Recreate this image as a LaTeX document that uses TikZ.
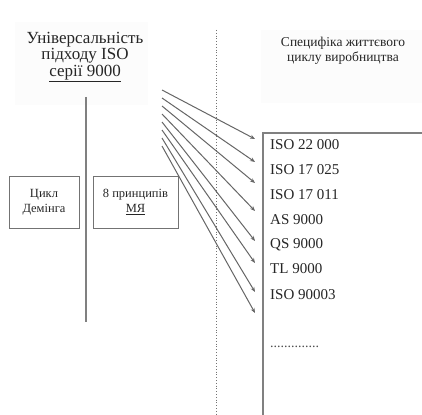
\documentclass[tikz,border=0pt]{standalone}
\usepackage{fontspec}
\setmainfont{Liberation Serif}
\usetikzlibrary{arrows.meta}
\begin{document}
\begin{tikzpicture}[x=1pt,y=-1pt,
  txt/.style={inner sep=0pt,align=center,text=black!85},
  faint/.style={fill=black!1.2},
  sbox/.style={draw=black!55,line width=0.9pt,minimum width=70pt,minimum height=52pt,inner sep=0pt,align=center,font=\fontsize{12.5}{15}\selectfont,text=black!85},
  item/.style={anchor=west,inner sep=0pt,font=\fontsize{15}{16}\selectfont,text=black!85},
  arr/.style={draw=black!60,line width=1pt,-{Stealth[length=5pt,width=4pt]}}]
\useasboundingbox (0,0) rectangle (422,414);
\fill[white] (0,0) rectangle (422,414);
\fill[faint] (15,22) rectangle (148,105);
\fill[faint] (261,30) rectangle (422,103);
% title left
\node[txt,font=\fontsize{17}{16.5}\selectfont] (title) at (85,57) {Універсальність\\підходу ISO\\\underline{серії 9000}};
% title right
\node[txt,font=\fontsize{13.5}{15.5}\selectfont] (title2) at (343,51) {Специфіка життєвого\\циклу виробництва};
% vertical gray line
\coordinate (vtop) at (86,97);
\coordinate (vbot) at (86,322);
\draw[black!50,line width=1.5pt] (vtop) -- (vbot);
% dotted line
\coordinate (dtop) at (216,30);
\coordinate (dbot) at (216,414);
\draw[black!55,line width=0.8pt,dotted] (dtop) -- (dbot);
% small boxes
\node[sbox,minimum width=70pt] (deming) at (44,202) {Цикл\\Демінга};
\node[sbox,minimum width=85pt] (princ) at (135.5,202) {8 принципів\\\underline{МЯ}};
% big box
\begin{scope}
\clip (0,0) rectangle (422,414);
\draw[black!50,line width=1.2pt] (263,420) -- (263,133) -- (430,133);
\end{scope}
\node[item] (i1) at (270,145) {ISO 22 000};
\node[item] (i2) at (270,170) {ISO 17 025};
\node[item] (i3) at (270,195) {ISO 17 011};
\node[item] (i4) at (270,220) {AS 9000};
\node[item] (i5) at (270,245) {QS 9000};
\node[item] (i6) at (270,269) {TL 9000};
\node[item] (i7) at (270,295) {ISO 90003};
\node[item,font=\fontsize{14}{14}\selectfont,text=black!70] (i8) at (270,347) {..............};
% arrows
\foreach \i/\sy/\ey in {1/90/139,2/98/162,3/106/183,4/114/211,5/122/241,6/130/263,7/138/292,8/146/313}{
  \coordinate (s\i) at (162,\sy);
  \coordinate (e\i) at (255,\ey);
  \draw[arr] (s\i) -- (e\i);
}
\end{tikzpicture}
\end{document}
